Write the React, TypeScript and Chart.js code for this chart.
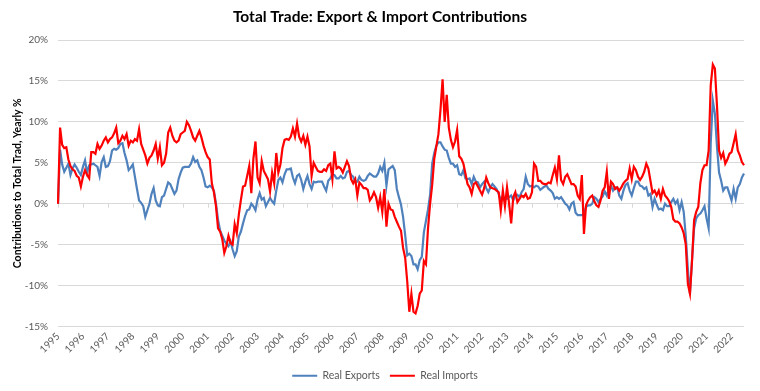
import React, { useEffect, useRef } from 'react';
import { Chart, registerables } from 'chart.js';

Chart.register(...registerables);

// Monthly observations, Jan 1995 – Jul 2022
const years: number[] = [
  1995, 1996, 1997, 1998, 1999, 2000, 2001, 2002, 2003, 2004, 2005, 2006, 2007, 2008,
  2009, 2010, 2011, 2012, 2013, 2014, 2015, 2016, 2017, 2018, 2019, 2020, 2021, 2022,
];
const monthNames: string[] = ['Jan', 'Feb', 'Mar', 'Apr', 'May', 'Jun', 'Jul', 'Aug', 'Sep', 'Oct', 'Nov', 'Dec'];
const lastYearMonths = 7;

const categories: string[] = [];
years.forEach((y) => {
  const n = y === 2022 ? lastYearMonths : 12;
  for (let m = 0; m < n; m++) categories.push(`${monthNames[m]} ${y}`);
});

const realExports: number[] = [
  0, 6.6, 4.8, 3.9, 4.4, 4.9, 3.5, 4.3, 4.8, 4.4, 3.9, 3.5, // 1995
  4.5, 5.3, 3.8, 4.7, 4.8, 4.9, 4.7, 4.5, 3.4, 5.1, 5.7, 4.5, // 1996
  4.6, 5.2, 6.5, 6.7, 6.6, 6.8, 7.3, 7.4, 6.2, 5.3, 4.1, 4.4, // 1997
  4.8, 3.3, 1.8, 0.4, 0.1, -0.3, -1.6, -0.8, 0.0, 1.2, 1.9, 0.4, // 1998
  -0.2, -0.3, 0.8, 1.0, 1.8, 2.6, 2.4, 1.8, 1.2, 1.6, 3.0, 3.8, // 1999
  4.4, 4.5, 4.5, 4.5, 4.9, 5.7, 5.1, 5.3, 4.5, 4.1, 3.2, 2.1, // 2000
  2.0, 2.2, 2.0, 1.6, 0.0, -2.0, -3.3, -3.9, -4.5, -4.9, -5.2, -4.6, // 2001
  -5.6, -6.4, -5.8, -4.0, -3.4, -2.4, -1.5, -0.8, -0.7, 0.0, -0.3, -0.8, // 2002
  0.5, 1.3, 0.5, 0.7, -0.3, 0.2, 0.7, 0.3, 0.0, 1.6, 2.9, 3.2, // 2003
  2.6, 3.6, 4.2, 4.2, 4.3, 3.2, 2.5, 3.4, 3.6, 2.9, 1.8, 2.7, // 2004
  3.4, 2.4, 1.8, 2.7, 2.6, 2.7, 2.7, 2.7, 2.1, 1.6, 2.8, 3.1, // 2005
  3.6, 3.5, 3.1, 3.1, 3.4, 3.1, 3.2, 3.9, 4.0, 3.5, 3.3, 2.7, // 2006
  2.7, 3.3, 2.9, 2.8, 2.9, 3.4, 3.7, 3.5, 3.3, 3.3, 3.7, 4.5, // 2007
  4.0, 5.0, 2.2, 4.2, 4.4, 4.6, 4.1, 1.8, 0.8, -0.1, -1.6, -3.8, // 2008
  -6.3, -6.1, -6.4, -7.4, -7.4, -8.0, -6.9, -6.5, -3.5, -2.1, -0.7, 1.1, // 2009
  4.9, 6.2, 7.1, 7.5, 7.5, 7.0, 6.6, 6.5, 5.6, 4.9, 4.9, 4.5, // 2010
  4.7, 3.6, 3.5, 4.1, 3.1, 3.0, 3.1, 2.4, 3.3, 2.7, 2.6, 2.0, // 2011
  2.4, 2.7, 1.9, 1.4, 2.0, 2.4, 2.1, 1.8, 1.2, 0.4, 0.8, 0.6, // 2012
  0.6, 0.8, 1.0, 0.4, 1.0, 1.1, 0.8, 1.4, 1.8, 3.3, 2.4, 2.1, // 2013
  2.2, 2.0, 2.2, 2.1, 1.7, 1.9, 2.1, 2.2, 1.8, 1.6, 1.3, 0.6, // 2014
  0.8, 0.6, 0.8, 0.4, 0.0, -0.2, -0.7, 0.0, 0.2, -1.1, -1.4, -1.4, // 2015
  -1.4, -1.2, -0.4, -0.2, -0.2, 0.0, 0.8, 0.6, 0.2, 0.6, 0.9, 1.5, // 2016
  1.0, 1.8, 2.2, 1.6, 2.0, 2.0, 1.0, 0.6, 1.6, 2.3, 2.5, 1.6, // 2017
  1.0, 1.9, 2.7, 2.7, 2.2, 2.1, 1.8, 2.0, 1.0, 1.2, -0.4, 0.6, // 2018
  -0.1, -0.7, -0.6, -0.8, 0.0, -0.3, -0.3, 0.2, 0.6, 0.0, 0.4, -0.8, // 2019
  0.2, -1.0, -4.0, -8.0, -11.0, -6.8, -3.0, -1.8, -1.4, -1.2, -0.8, -0.3, // 2020
  -1.8, -3.0, 7.5, 12.6, 11.0, 7.0, 3.8, 2.8, 1.6, 2.0, 2.0, 1.2, // 2021
  0.4, 1.8, 0.6, 2.0, 2.4, 3.2, 3.7, // 2022
];

const realImports: number[] = [
  0, 9.3, 7.2, 6.8, 6.9, 5.4, 4.6, 4.2, 4.0, 3.4, 3.2, 2.1, // 1995
  3.3, 4.1, 3.5, 3.1, 6.3, 6.3, 6.1, 7.3, 6.7, 7.1, 7.7, 8.1, // 1996
  7.5, 7.9, 8.1, 8.6, 9.3, 7.4, 7.7, 8.3, 7.9, 8.5, 7.1, 7.7, // 1997
  7.5, 7.9, 7.7, 9.1, 7.3, 6.6, 5.9, 4.9, 5.6, 5.9, 6.5, 7.3, // 1998
  5.5, 6.9, 4.7, 5.0, 6.1, 8.7, 9.3, 8.3, 7.7, 7.5, 7.7, 8.5, // 1999
  8.7, 8.9, 10.0, 9.6, 8.9, 8.1, 7.7, 8.3, 8.9, 8.1, 7.1, 6.3, // 2000
  5.7, 5.4, 2.5, 1.4, -0.3, -3.0, -3.4, -4.3, -6.0, -5.2, -3.9, -4.8, // 2001
  -5.0, -2.5, -3.6, -1.3, 0.5, 2.1, 2.2, 3.4, 4.6, 1.3, 5.5, 7.6, // 2002
  3.2, 2.5, 5.2, 4.0, 3.5, 3.0, 1.5, 3.8, 2.5, 6.2, 3.8, 4.8, // 2003
  6.8, 7.8, 7.9, 7.8, 8.2, 9.2, 8.2, 9.8, 8.2, 7.6, 8.3, 7.2, // 2004
  8.2, 7.0, 3.4, 5.0, 4.5, 4.0, 3.9, 3.9, 4.2, 4.0, 4.7, 4.9, // 2005
  3.0, 6.4, 4.3, 4.5, 4.3, 3.8, 4.5, 5.2, 4.6, 3.0, 2.5, 3.0, // 2006
  1.0, 2.6, 2.3, 1.9, 1.9, 1.7, 0.4, 0.8, 1.4, 0.8, -0.5, 0.8, // 2007
  -1.0, 1.8, -2.8, 0.0, -0.7, -0.8, -1.6, -2.2, -2.8, -3.3, -5.4, -6.6, // 2008
  -9.5, -13.2, -11.0, -13.2, -13.4, -12.5, -11.0, -10.6, -7.0, -7.4, -3.0, 0.0, // 2009
  2.3, 5.5, 7.0, 8.5, 11.5, 15.2, 10.0, 13.3, 9.3, 7.8, 6.9, 7.6, // 2010
  9.0, 5.8, 5.5, 4.9, 3.7, 2.4, 2.0, 1.2, 2.4, 2.6, 2.1, 1.6, // 2011
  1.1, 1.9, 3.2, 2.5, 2.0, 1.9, 1.8, 1.6, 1.4, -0.8, 1.6, -0.3, // 2012
  2.0, 0.0, -2.4, 0.8, 1.4, 0.2, 0.6, 1.0, 0.8, 1.2, 0.6, 0.7, // 2013
  1.4, 4.9, 4.5, 2.8, 2.8, 2.5, 2.4, 2.4, 2.6, 2.5, 3.5, 4.4, // 2014
  3.0, 5.9, 2.9, 2.4, 3.3, 3.6, 3.0, 2.4, 2.4, 2.1, 1.0, 0.6, // 2015
  3.5, -3.7, -0.2, 0.4, 0.8, 1.0, 0.3, -0.2, -0.4, 0.4, 1.6, 2.0, // 2016
  3.9, 0.6, 2.7, 2.4, 1.8, 2.0, 1.6, 2.0, 2.5, 2.8, 3.0, 4.3, // 2017
  3.0, 4.5, 4.1, 3.3, 2.9, 3.3, 3.9, 4.9, 4.3, 2.8, 1.3, 1.6, // 2018
  1.0, 1.6, 0.6, 1.8, 1.0, 0.7, 0.3, -0.4, -1.9, -2.2, -2.2, -2.4, // 2019
  -2.9, -3.6, -5.0, -9.8, -11.0, -7.0, -2.0, -1.0, -0.4, 2.5, 4.1, 4.7, // 2020
  4.7, 6.5, 14.5, 17.0, 16.5, 12.0, 6.5, 5.6, 6.2, 4.9, 5.4, 6.1, // 2021
  6.3, 7.4, 8.5, 6.5, 5.9, 5.1, 4.7, // 2022
];

const seriesNames: string[] = ['Real Exports', 'Real Imports'];
const chartTitle = 'Total Trade: Export & Import Contributions';
const yAxisTitle = 'Contributions to Total Trad, Yearly %';
const yTicks: number[] = [-15, -10, -5, 0, 5, 10, 15, 20];

const FONT = 'Lato, "Open Sans", "DejaVu Sans", sans-serif';
const GRAY = '#595959';
const GRID = '#d9d9d9';

const zeroLineTicks = {
  id: 'zeroLineTicks',
  beforeDatasetsDraw(chart: any) {
    const { ctx, scales } = chart;
    const x = scales.x;
    const y = scales.y;
    const y0 = y.getPixelForValue(0);
    ctx.save();
    ctx.strokeStyle = GRID;
    ctx.lineWidth = 1;
    categories.forEach((_c, i) => {
      if (i % 12 === 0) {
        const px = Math.round(x.getPixelForValue(i)) + 0.5;
        ctx.beginPath();
        ctx.moveTo(px, y0);
        ctx.lineTo(px, y0 + 4);
        ctx.stroke();
      }
    });
    ctx.restore();
  },
};

// centre title and legend on the whole canvas rather than on the padded box
const centreOnCanvas = {
  id: 'centreOnCanvas',
  afterLayout(chart: any) {
    const t = chart.titleBlock;
    if (t) {
      t.left += 8;
      t.right += 8;
    }
    const l = chart.legend;
    if (l) {
      l.left += 13;
      l.right += 13;
    }
  },
};

export default function App() {
  const canvasRef = useRef<HTMLCanvasElement | null>(null);

  useEffect(() => {
    if (!canvasRef.current) return;
    const chart = new Chart(canvasRef.current, {
      type: 'line',
      data: {
        labels: categories,
        datasets: [
          {
            label: seriesNames[0],
            data: realExports,
            borderColor: '#4F81BD',
            backgroundColor: '#4F81BD',
            borderWidth: 2.2,
            pointRadius: 0,
            tension: 0,
            order: 2,
          },
          {
            label: seriesNames[1],
            data: realImports,
            borderColor: '#FF0000',
            backgroundColor: '#FF0000',
            borderWidth: 2.2,
            pointRadius: 0,
            tension: 0,
            order: 1,
          },
        ],
      },
      options: {
        animation: false,
        responsive: true,
        maintainAspectRatio: false,
        layout: { padding: { left: 0, right: 16, top: 0, bottom: 0 } },
        plugins: {
          title: {
            display: true,
            text: chartTitle,
            color: '#000000',
            font: { family: FONT, size: 15.5, weight: 'bold' },
            padding: { top: 7.7, bottom: 13.7 },
          },
          legend: {
            display: true,
            position: 'bottom',
            labels: {
              usePointStyle: true,
              pointStyle: 'line',
              pointStyleWidth: 25,
              boxHeight: 10,
              color: GRAY,
              font: { family: FONT, size: 10.5 },
              padding: 10,
              sort: (a: any, b: any) => a.datasetIndex - b.datasetIndex,
            },
          },
          tooltip: { enabled: false },
        },
        scales: {
          x: {
            type: 'category',
            grid: { display: false, drawTicks: false },
            border: { display: false },
            ticks: {
              autoSkip: false,
              minRotation: 45,
              maxRotation: 45,
              padding: 4,
              color: GRAY,
              font: { family: FONT, size: 10 },
              callback: (_v: any, i: number) => (i % 12 === 0 ? categories[i].slice(4) : ''),
            },
            afterFit: (scale: any) => {
              scale.height = 34;
            },
          },
          y: {
            min: -15,
            max: 20,
            afterBuildTicks: (scale: any) => {
              scale.ticks = yTicks.map((v) => ({ value: v }));
            },
            grid: { color: GRID, drawTicks: false, lineWidth: 1 },
            border: { display: false },
            ticks: {
              padding: 10,
              color: GRAY,
              font: { family: FONT, size: 10 },
              callback: (v: any) => `${v}%`,
            },
            title: {
              display: true,
              text: yAxisTitle,
              color: '#000000',
              font: { family: FONT, size: 10.5, weight: 'bold' },
              padding: { top: 11, bottom: 0 },
            },
            afterFit: (scale: any) => {
              scale.width = 58;
            },
          },
        },
      },
      plugins: [zeroLineTicks, centreOnCanvas],
    });
    return () => chart.destroy();
  }, []);

  return (
    <div style={{ position: 'absolute', left: 0, top: 0, width: 760, height: 391, background: '#ffffff' }}>
      <canvas ref={canvasRef} />
    </div>
  );
}
